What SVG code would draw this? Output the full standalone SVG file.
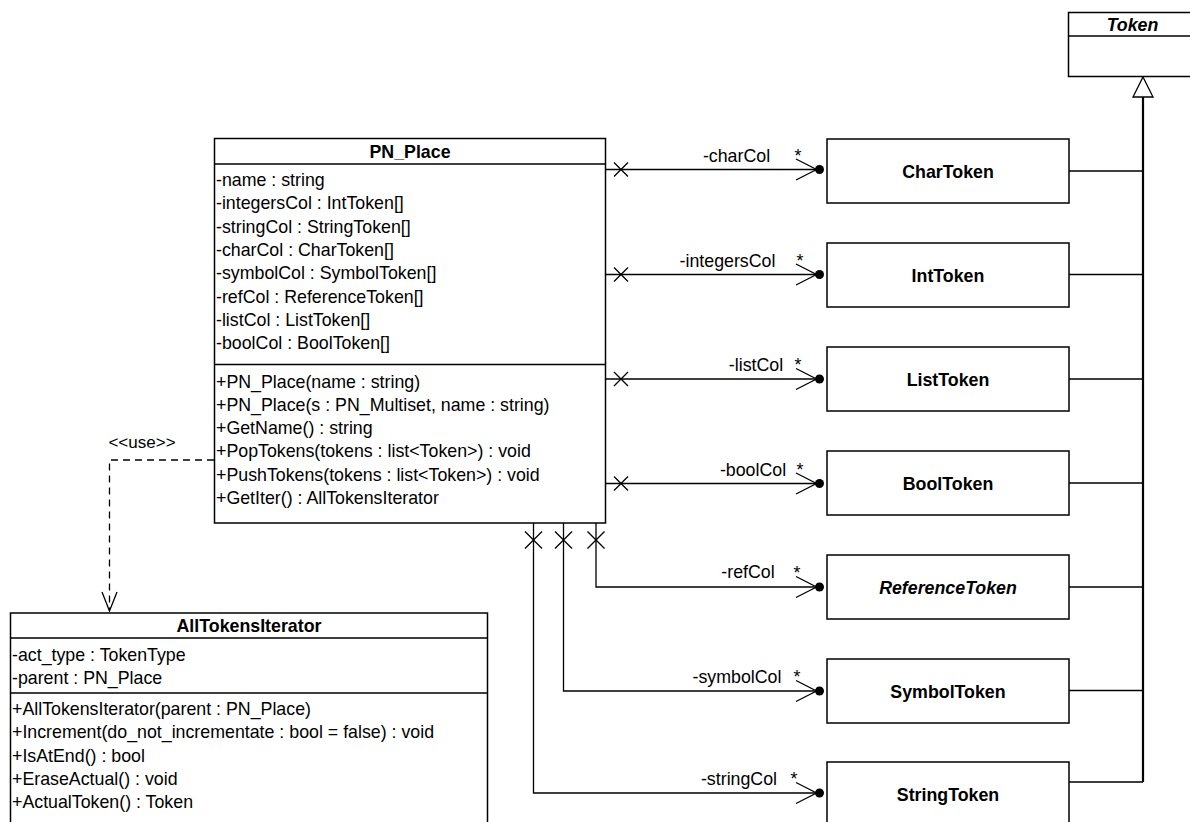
<svg xmlns="http://www.w3.org/2000/svg" xmlns:xlink="http://www.w3.org/1999/xlink" width="1190" height="822" viewBox="0 0 1190 822">
<style>
.box{fill:#fff;stroke:#000;stroke-width:1.5}
.ln{fill:none;stroke:#000;stroke-width:1.3}
.t{font-family:"Liberation Sans",Arial,sans-serif;font-size:17.8px;fill:#000}
.s{font-size:17px}
.b{font-weight:bold}
.i{font-style:italic}
.m{text-anchor:middle}
</style>
<defs>
<path id="xm" d="M-7,-7 L7,7 M-7,7 L7,-7" fill="none" stroke="#000" stroke-width="1.3"/>
<path id="xb" d="M-8.5,-8.5 L8.5,8.5 M-8.5,8.5 L8.5,-8.5" fill="none" stroke="#000" stroke-width="1.3"/>
<g id="arr"><path d="M-23.5,-10.5 L-3,0 L-23.5,10.5" fill="none" stroke="#000" stroke-width="1.3"/><circle cx="0" cy="0" r="4.5" fill="#000"/></g>
</defs>
<rect width="1190" height="822" fill="#fff"/>

<g id="connectors">
  <!-- inheritance -->
  <path class="ln" d="M1069,171 H1143 M1069,274.5 H1143 M1069,379 H1143 M1069,483 H1143 M1069,587 H1143 M1069,690.5 H1143 M1069,782 H1143"/>
  <path d="M1143,97 V782" fill="none" stroke="#000" stroke-width="2.2"/>
  <path d="M1143,77 L1153,97 L1133,97 Z" fill="#fff" stroke="#000" stroke-width="1.3"/>

  <!-- associations -->
  <path class="ln" d="M606,169.5 H817"/>
  <use xlink:href="#xm" x="621" y="169.5"/>
  <use xlink:href="#arr" x="819.5" y="169.5"/>
  <text class="t m" x="736.5" y="161.5">-charCol</text>
  <text class="t m" x="798" y="161.5">*</text>

  <path class="ln" d="M606,274.5 H817"/>
  <use xlink:href="#xm" x="621" y="274.5"/>
  <use xlink:href="#arr" x="819.5" y="274.5"/>
  <text class="t m" x="727.5" y="266.5">-integersCol</text>
  <text class="t m" x="800" y="266.5">*</text>

  <path class="ln" d="M606,379 H817"/>
  <use xlink:href="#xm" x="621" y="379"/>
  <use xlink:href="#arr" x="819.5" y="379"/>
  <text class="t m" x="756" y="371">-listCol</text>
  <text class="t m" x="798" y="371">*</text>

  <path class="ln" d="M606,483.5 H817"/>
  <use xlink:href="#xm" x="621" y="483.5"/>
  <use xlink:href="#arr" x="819.5" y="483.5"/>
  <text class="t m" x="753" y="475.5">-boolCol</text>
  <text class="t m" x="800" y="475.5">*</text>

  <path class="ln" d="M596,523 V587 H817"/>
  <use xlink:href="#xb" x="596" y="540"/>
  <use xlink:href="#arr" x="819.5" y="587"/>
  <text class="t m" x="748" y="578">-refCol</text>
  <text class="t m" x="797" y="579">*</text>

  <path class="ln" d="M563.5,523 V691 H817"/>
  <use xlink:href="#xb" x="563.5" y="540"/>
  <use xlink:href="#arr" x="819.5" y="691"/>
  <text class="t m" x="737" y="683">-symbolCol</text>
  <text class="t m" x="797" y="683">*</text>

  <path class="ln" d="M533.5,523 V793 H817"/>
  <use xlink:href="#xb" x="533.5" y="540"/>
  <use xlink:href="#arr" x="819.5" y="793"/>
  <text class="t m" x="739" y="785">-stringCol</text>
  <text class="t m" x="794" y="785">*</text>

  <!-- use dependency -->
  <path d="M214,460 H109.5 V610" fill="none" stroke="#000" stroke-width="1.3" stroke-dasharray="7,5"/>
  <path class="ln" d="M102,592 L109.5,611 L117,592"/>
  <text class="t s m" x="142" y="448">&lt;&lt;use&gt;&gt;</text>
</g>

<g id="Token">
  <rect class="box" x="1068.5" y="12.5" width="140" height="64"/>
  <path class="ln" d="M1068.5,36 H1208"/>
  <text class="t b i m" x="1132.5" y="31">Token</text>
</g>

<g id="PN_Place">
  <rect class="box" x="214.5" y="138.5" width="391" height="384.5"/>
  <path class="ln" d="M214.5,164 H605.5 M214.5,364.5 H605.5"/>
  <text class="t b m" x="410" y="158">PN_Place</text>
  <text class="t" x="216" y="186">-name : string</text>
  <text class="t" x="216" y="209.3">-integersCol : IntToken[]</text>
  <text class="t" x="216" y="232.6">-stringCol : StringToken[]</text>
  <text class="t" x="216" y="255.9">-charCol : CharToken[]</text>
  <text class="t" x="216" y="279.2">-symbolCol : SymbolToken[]</text>
  <text class="t" x="216" y="302.5">-refCol : ReferenceToken[]</text>
  <text class="t" x="216" y="325.8">-listCol : ListToken[]</text>
  <text class="t" x="216" y="349.1">-boolCol : BoolToken[]</text>
  <text class="t" x="216" y="387.5">+PN_Place(name : string)</text>
  <text class="t" x="216" y="410.8">+PN_Place(s : PN_Multiset, name : string)</text>
  <text class="t" x="216" y="434.1">+GetName() : string</text>
  <text class="t" x="216" y="457.4">+PopTokens(tokens : list&lt;Token&gt;) : void</text>
  <text class="t" x="216" y="480.7">+PushTokens(tokens : list&lt;Token&gt;) : void</text>
  <text class="t" x="216" y="504">+GetIter() : AllTokensIterator</text>
</g>

<g id="AllTokensIterator">
  <rect class="box" x="10.5" y="613" width="477" height="220"/>
  <path class="ln" d="M10.5,638 H487.5 M10.5,693 H487.5"/>
  <text class="t b m" x="249" y="631.5">AllTokensIterator</text>
  <text class="t" x="12" y="660.5">-act_type : TokenType</text>
  <text class="t" x="12" y="683.8">-parent : PN_Place</text>
  <text class="t" x="12" y="715">+AllTokensIterator(parent : PN_Place)</text>
  <text class="t" x="12" y="738.3">+Increment(do_not_incrementate : bool = false) : void</text>
  <text class="t" x="12" y="761.6">+IsAtEnd() : bool</text>
  <text class="t" x="12" y="784.9">+EraseActual() : void</text>
  <text class="t" x="12" y="808.2">+ActualToken() : Token</text>
</g>

<g id="CharToken">
  <rect class="box" x="827" y="139" width="242" height="64"/>
  <text class="t b m" x="948" y="177.5">CharToken</text>
</g>
<g id="IntToken">
  <rect class="box" x="827" y="243" width="242" height="64"/>
  <text class="t b m" x="948" y="281.5">IntToken</text>
</g>
<g id="ListToken">
  <rect class="box" x="827" y="347" width="242" height="64"/>
  <text class="t b m" x="948" y="385.5">ListToken</text>
</g>
<g id="BoolToken">
  <rect class="box" x="827" y="451" width="242" height="64"/>
  <text class="t b m" x="948" y="489.5">BoolToken</text>
</g>
<g id="ReferenceToken">
  <rect class="box" x="827" y="555" width="242" height="64"/>
  <text class="t b i m" x="948" y="593.5">ReferenceToken</text>
</g>
<g id="SymbolToken">
  <rect class="box" x="827" y="659" width="242" height="64"/>
  <text class="t b m" x="948" y="697.5">SymbolToken</text>
</g>
<g id="StringToken">
  <rect class="box" x="827" y="762" width="242" height="64"/>
  <text class="t b m" x="948" y="800.5">StringToken</text>
</g>
</svg>
